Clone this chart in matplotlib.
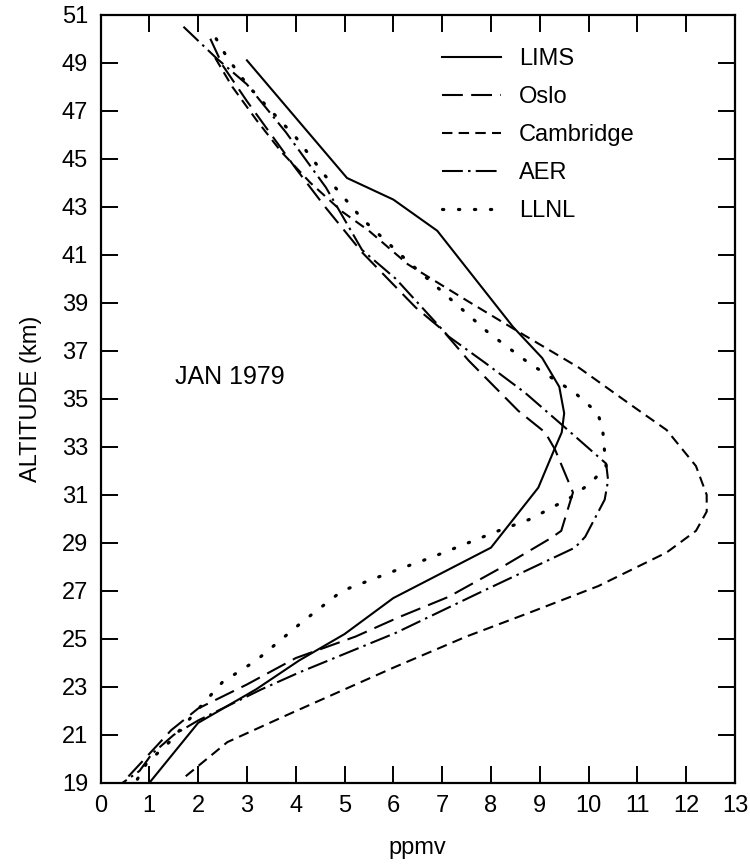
"""Altitude profiles, JAN 1979: LIMS vs. four models."""

import matplotlib

matplotlib.use("Agg")
import matplotlib.pyplot as plt  # noqa: E402

plt.rcParams["font.family"] = ["Liberation Sans", "DejaVu Sans"]

# --- data (ppmv, km) -------------------------------------------------------
lims_x = [3.0, 5.05, 6.0, 6.9, 8.45, 9.05, 9.4, 9.5, 9.45, 9.3, 8.97, 8.0, 6.0, 5.0, 4.07, 3.19, 2.0, 1.0]
lims_y = [49.1, 44.2, 43.3, 42.0, 38.0, 36.7, 35.5, 34.4, 33.6, 32.9, 31.3, 28.8, 26.7, 25.2, 24.1, 22.9, 21.5, 19.0]

oslo_x = [2.25, 2.5, 3.0, 3.5, 4.0, 4.6, 5.36, 6.46, 6.99, 7.54, 8.56, 9.11, 9.31, 9.68, 9.44, 9.23, 8.15, 7.13,
          6.11, 5.23, 4.0, 3.0, 2.0, 1.45, 0.95, 0.45]
oslo_y = [50.0, 48.9, 47.4, 46.0, 44.6, 43.0, 41.1, 38.8, 37.9, 36.6, 34.5, 33.6, 32.9, 31.1, 29.5, 29.2, 27.9,
          26.75, 25.9, 25.1, 24.2, 23.1, 22.1, 21.2, 20.1, 19.0]

cambridge_x = [2.35, 2.7, 3.2, 3.7, 4.3, 4.95, 5.5, 6.3, 7.5, 8.6, 9.8, 10.9, 11.6, 12.2, 12.42, 12.42, 12.2,
               11.6, 10.2, 8.8, 7.5, 6.0, 3.9, 2.6, 1.7]
cambridge_y = [49.2, 48.0, 46.6, 45.3, 44.0, 42.8, 42.0, 40.6, 39.1, 37.75, 36.3, 34.7, 33.7, 32.2, 31.0, 30.3,
               29.5, 28.6, 27.2, 26.1, 25.1, 23.8, 21.9, 20.7, 19.2]

aer_x = [1.7, 2.37, 3.0, 3.8, 4.62, 5.36, 6.05, 7.13, 7.88, 8.7, 9.52, 10.36, 10.4, 10.33, 9.93, 9.72, 7.74,
         6.05, 4.07, 3.3, 2.0, 1.5, 1.05, 0.8, 0.45]
aer_y = [50.5, 49.2, 48.1, 46.1, 43.8, 41.2, 40.0, 37.6, 36.5, 35.25, 33.8, 32.3, 31.6, 30.8, 29.25, 28.8, 26.9,
         25.25, 23.6, 22.9, 21.6, 21.0, 20.2, 19.5, 19.0]

llnl_x = [2.37, 2.6, 3.0, 3.4, 4.0, 4.6, 5.36, 6.31, 6.87, 7.95, 8.77, 9.72, 10.19, 10.29, 10.33, 10.36, 10.05,
          9.64, 8.82, 8.15, 6.79, 6.11, 4.95, 4.13, 3.19, 2.5, 1.97, 1.41, 0.94, 0.74]
llnl_y = [50.0, 49.2, 48.1, 47.2, 45.9, 44.3, 42.5, 40.7, 39.7, 37.75, 36.5, 35.25, 34.4, 33.7, 32.75, 32.2, 31.5,
          30.9, 30.0, 29.5, 28.4, 27.9, 27.0, 25.7, 24.1, 23.2, 22.0, 20.7, 19.8, 19.1]

x_ticks = list(range(0, 14))
y_ticks = list(range(19, 52, 2))

SERIES = [
    ("LIMS", lims_x, lims_y, dict(ls="-", lw=1.5)),
    ("Oslo", oslo_x, oslo_y, dict(dashes=(10, 4), lw=1.5)),
    ("Cambridge", cambridge_x, cambridge_y, dict(dashes=(5, 3), lw=1.5)),
    ("AER", aer_x, aer_y, dict(dashes=(10, 2.5, 1.2, 2.5), lw=1.5)),
    ("LLNL", llnl_x, llnl_y, dict(dashes=(0.4, 4.6), lw=2.3, dash_capstyle="round")),
]

fig = plt.figure(figsize=(7.5, 8.67), dpi=100)
ax = fig.add_axes([0.134, 0.097, 0.846, 0.886])

for label, xs, ys, style in SERIES:
    ax.plot(xs, ys, color="black", label=label, **style)

ax.set_xlim(0, 13); ax.set_ylim(19, 51)
ax.set_xticks(x_ticks); ax.set_yticks(y_ticks)
ax.tick_params(direction="in", length=12, width=1.4, top=True, right=True, labelsize=17)
ax.tick_params(axis="x", pad=9)
ax.tick_params(axis="y", pad=9)
for sp in ax.spines.values():
    sp.set_linewidth(1.6)

ax.set_xlabel("ppmv", fontsize=17, labelpad=14)
ax.set_ylabel("ALTITUDE (km)", fontsize=17, labelpad=14)
ax.text(1.52, 35.9, "JAN 1979", fontsize=18, va="center", ha="left")

ax.legend(loc="upper left", bbox_to_anchor=(0.52, 0.972), frameon=False, fontsize=17,
          handlelength=2.5, handletextpad=0.75, labelspacing=0.68, borderpad=0)

fig.savefig("out.png", dpi=100)
